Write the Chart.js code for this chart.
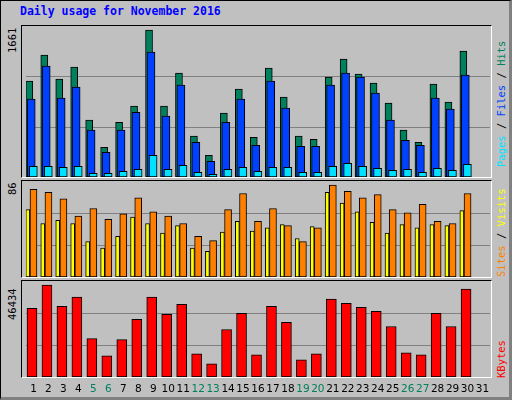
<!DOCTYPE html>
<html><head><meta charset="utf-8">
<script src="https://cdn.jsdelivr.net/npm/chart.js@4/dist/chart.umd.min.js"></script>
<style>
html,body{margin:0;padding:0;background:#fff;}
#wrap{position:relative;width:512px;height:400px;background:#c0c0c0;box-sizing:border-box;border:1px solid #000;border-right:3px solid #808080;border-bottom:3px solid #808080;overflow:hidden;font-family:"DejaVu Sans Mono",monospace;}
.panel{position:absolute;left:20px;width:469px;border-top:1px solid #000;border-left:1px solid #000;border-right:1px solid #fff;border-bottom:1px solid #fff;}
canvas{position:absolute;}
.rot{position:absolute;transform-origin:0 0;transform:rotate(-90deg);white-space:nowrap;font-size:10.5px;line-height:12px;}
#title{position:absolute;left:19px;top:3px;font-weight:bold;font-size:11.5px;color:#0000ff;}
</style></head><body>
<div id="wrap">
<div id="title">Daily usage for November 2016</div>
<div class="panel" style="top:24px;height:151px"></div>
<div class="panel" style="top:179px;height:96px"></div>
<div class="panel" style="top:279px;height:96px"></div>
<div class="rot" style="left:5px;top:52px;color:#000">1661</div>
<div class="rot" style="left:5px;top:194px;color:#000">86</div>
<div class="rot" style="left:5px;top:319px;color:#000">46434</div>
<div class="rot" style="left:494px;top:166px"><span style="color:#00e0ff">Pages</span><span style="color:#000"> / </span><span style="color:#0040ff">Files</span><span style="color:#000"> / </span><span style="color:#00805c">Hits</span></div>
<div class="rot" style="left:494px;top:276px"><span style="color:#ff8000">Sites</span><span style="color:#000"> / </span><span style="color:#ffff00">Visits</span></div>
<div class="rot" style="left:494px;top:377px;color:#ff0000">KBytes</div>
<canvas id="c1" style="left:25px;top:25px"></canvas>
<canvas id="c2" style="left:25px;top:180px"></canvas>
<canvas id="c3" style="left:25px;top:280px"></canvas>
</div>
<script>
const days = Array.from({length:31},(_,i)=>String(i+1));
const weekendDays = ["5","6","12","13","19","20","26","27"];
const hits  = [1083,1378,1106,1242,642,336,619,800,1661,800,1174,461,245,721,993,449,1231,902,461,427,1129,1333,1163,1061,834,529,393,1049,846,1423,null];
const files = [880,1253,891,1015,529,279,529,732,1412,687,1038,393,177,619,880,359,1083,778,347,347,1038,1174,1129,948,642,415,359,891,766,1151,null];
const pages = [121,121,109,121,42,42,64,87,245,87,132,53,30,87,109,64,109,109,53,53,121,155,121,98,75,87,53,98,75,143,null];
const sites  = [63,50,53,50,33,27,38,56,50,41,48,27,24,42,52,43,46,49,36,47,79,69,61,51,41,49,46,49,48,62,null];
const visits = [82,79,73,57,64,54,59,74,61,57,50,38,34,63,78,52,64,48,33,46,86,80,74,77,63,60,68,52,50,78,null];
const kbytes = [34700,46434,35720,40310,19390,10720,18880,29090,40310,31640,36740,11740,6630,23980,32150,11230,35720,27560,8670,11740,39290,37250,35210,33170,25510,12250,11230,32150,25510,44400,null];

function pts(arr, off){ return arr.map((v,i)=> v==null?null:{x:i+1+off,y:v}).filter(p=>p); }
const grid = {id:'grid',beforeDatasetsDraw(c){const a=c.chartArea,x=c.ctx;x.save();x.strokeStyle='#808080';x.lineWidth=1;
  for(const f of [1/3,2/3]){const y=Math.round(a.top+a.height*f)+0.5;x.beginPath();x.moveTo(a.left-5,y);x.lineTo(a.right+1,y);x.stroke();}x.restore();}};
const xlab = {id:'xlab',afterDraw(c){const x=c.ctx,s=c.scales.x;x.save();x.font='10.5px "DejaVu Sans", sans-serif';x.textAlign='center';x.textBaseline='middle';
  days.forEach((d,i)=>{x.fillStyle=weekendDays.includes(d)?'#00805c':'#000';x.fillText(d,s.getPixelForValue(i+1),c.chartArea.bottom+12);});x.restore();}};
function ds(data,off,color,w,order){return {data:pts(data,off),backgroundColor:color,borderColor:'#000',borderWidth:1,barThickness:w,order:order,borderSkipped:false,grouped:false};}
function mk(id,ymax,sets,extra,padB){
  const cv=document.getElementById(id);
  return new Chart(cv,{type:'bar',data:{datasets:sets},plugins:[grid].concat(extra||[]),
    options:{responsive:false,animation:false,devicePixelRatio:1,layout:{padding:{left:0,right:0,top:0,bottom:padB||0}},
      plugins:{legend:{display:false},tooltip:{enabled:false}},
      scales:{x:{type:'linear',min:0.5,max:31.5,offset:false,display:false},y:{min:0,max:ymax,display:false}}}});
}
function size(id,w,h){const c=document.getElementById(id);c.width=w;c.height=h;c.style.width=w+'px';c.style.height=h+'px';}
size('c1',464,151);size('c2',464,96);size('c3',464,118);
mk('c1',1706,[ds(pages,-0.01,'#00e0ff',8,1),ds(files,-0.15,'#0040ff',8,2),ds(hits,-0.28,'#00805c',7,3)]);
mk('c2',89.7,[ds(visits,0,'#ff8000',7,1),ds(sites,-0.38,'#ffff00',4,2)]);
mk('c3',48475,[ds(kbytes,-0.1,'#ff0000',10,1)],[xlab],22);
</script>
</body></html>
